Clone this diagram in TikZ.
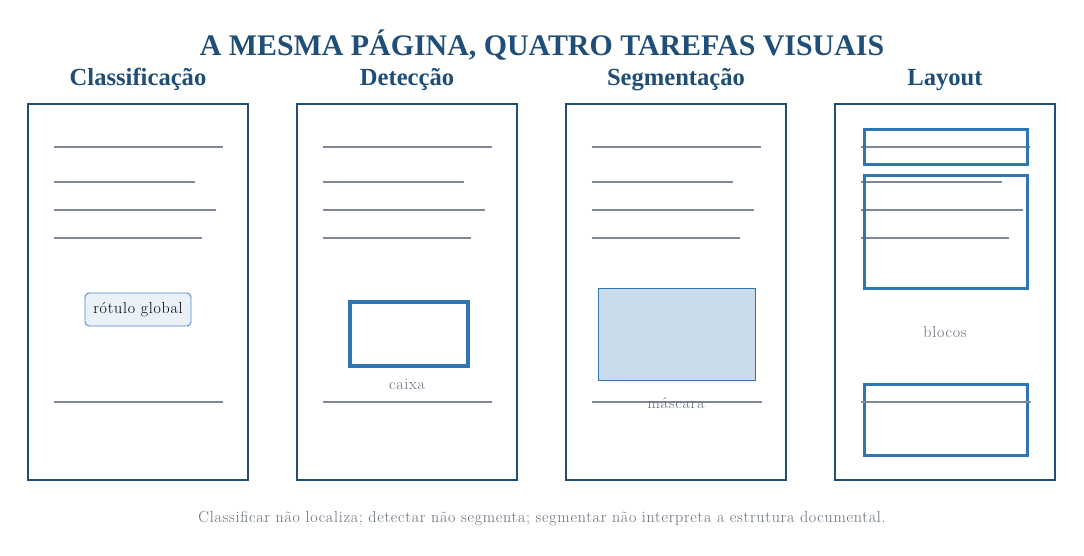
\documentclass[tikz,border=0pt]{standalone}
\usepackage{fontspec}
\newfontfamily\titlefont{Liberation Serif}
\newfontfamily\smallfont[LetterSpace=4.6]{Latin Modern Roman}
\definecolor{navy}{HTML}{1F4E79}
\definecolor{mid}{HTML}{2E75B6}
\definecolor{txtline}{HTML}{808898}
\definecolor{capgray}{HTML}{646C7C}
\definecolor{lightfill}{HTML}{EAF1F8}
\definecolor{maskfill}{HTML}{CADCEC}
\begin{document}
\begin{tikzpicture}[x=1pt,y=-1pt,
  pagebox/.style={draw=navy,line width=2pt,fill=white},
  textline/.style={draw=txtline,line width=1.8pt},
  headfont/.style={font=\titlefont\bfseries\fontsize{24.6}{28}\selectfont,text=navy,anchor=base,inner sep=0pt},
  smalllabel/.style={font=\smallfont\fontsize{16}{18}\selectfont,text=capgray,anchor=base,inner sep=0pt},
  blockbox/.style={draw=mid,line width=3pt},
]
\useasboundingbox (0,0) rectangle (1084,555);
\fill[white] (0,0) rectangle (1084,555);

\node[font=\titlefont\bfseries\fontsize{29.9}{33}\selectfont,text=navy,anchor=base,inner sep=0pt] (title) at (542,55) {A MESMA PÁGINA, QUATRO TAREFAS VISUAIS};

\node[headfont] (h1) at (138,85) {Classificação};
\node[headfont] (h2) at (407,85) {Detecção};
\node[headfont] (h3) at (676,85) {Segmentação};
\node[headfont] (h4) at (945,85) {Layout};

% panels and text lines
\foreach \i/\px in {1/28,2/297,3/566,4/835}{
  \begin{scope}[shift={(\px,0)}]
    \draw[pagebox] (0,104) rectangle (220,480);
    \draw[textline] (25.5,147) -- (195,147);
    \draw[textline] (25.5,182) -- (167,182);
    \draw[textline] (25.5,210) -- (188,210);
    \draw[textline] (25.5,238) -- (174,238);
  \end{scope}
}

% panel 1
\node[draw=mid!85,line width=0.9pt,fill=lightfill,rounded corners=4pt,minimum width=106pt,minimum height=33pt,inner sep=0pt,text=black,font=\smallfont\fontsize{16}{18}\selectfont] (rotulo) at (138,309.5) {rótulo global};
\draw[textline] (53.5,402) -- (223,402);

% panel 2
\draw[draw=mid,line width=4pt] (350,302) rectangle (468,366);
\node[smalllabel] (caixa) at (407,389) {caixa};
\draw[textline] (322.5,402) -- (492,402);

% panel 3
\draw[draw=mid,line width=1pt,fill=maskfill] (598,288) rectangle (755,380);
\draw[textline] (592,402) -- (762,402);
\node[smalllabel] (mascara) at (676,408) {máscara};

% panel 4
\draw[blockbox] (864,129) rectangle (1027,164);
\draw[blockbox] (864,175) rectangle (1027,288);
\draw[blockbox] (864,384) rectangle (1027,455);
\draw[textline] (861,402) -- (1031,402);
\node[smalllabel] (blocos) at (945,337) {blocos};

% caption
\node[smalllabel] (caption) at (542,522) {Classificar não localiza; detectar não segmenta; segmentar não interpreta a estrutura documental.};
\end{tikzpicture}
\end{document}
